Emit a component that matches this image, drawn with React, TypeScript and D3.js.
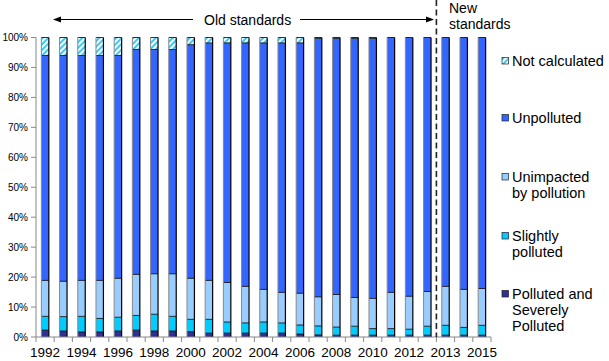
import * as d3 from 'd3';

// categories: 1992-2013 on old standards, then 2013-2015 on new standards
const years = [
  '1992', '1993', '1994', '1995', '1996', '1997', '1998', '1999', '2000', '2001', '2002',
  '2003', '2004', '2005', '2006', '2007', '2008', '2009', '2010', '2011', '2012', '2013',
  '2013', '2014', '2015',
];
const labelled = [0, 2, 4, 6, 8, 10, 12, 14, 16, 18, 20, 22, 24];
const oldCount = 22;

// percent of river length
const polluted = [2.3, 2.0, 1.7, 1.7, 2.0, 2.3, 2.0, 2.0, 1.8, 1.3, 1.3, 1.3, 1.3, 1.3, 1.0, 0.7, 0.6, 0.6, 0.6, 0.6, 0.6, 0.6, 0.6, 0.6, 0.6];
const slightly = [4.6, 4.8, 5.2, 4.5, 4.6, 4.9, 5.6, 4.9, 4.1, 4.6, 3.7, 3.4, 3.7, 3.4, 3.0, 3.0, 2.7, 3.0, 2.2, 2.2, 2.0, 3.0, 3.3, 2.6, 3.3];
const unimpacted = [12.0, 11.8, 12.0, 12.7, 13.0, 13.7, 13.5, 14.2, 13.7, 13.0, 13.2, 12.2, 10.9, 10.2, 10.6, 9.7, 10.9, 9.6, 10.1, 12.1, 11.0, 11.6, 13.0, 12.7, 12.3];
const unpolluted = [75.1, 75.4, 75.1, 75.1, 74.4, 75.1, 74.9, 74.9, 78.0, 79.3, 80.0, 81.3, 82.3, 83.3, 83.6, 86.3, 85.5, 86.5, 86.8, 85.1, 86.4, 84.8, 83.1, 84.1, 83.8];
const notCalculated = [6, 6, 6, 6, 6, 4, 4, 4, 2.4, 1.8, 1.8, 1.8, 1.8, 1.8, 1.8, 0.3, 0.3, 0.3, 0.3, 0, 0, 0, 0, 0, 0];

const yTicks = [0, 10, 20, 30, 40, 50, 60, 70, 80, 90, 100];

const keys = ['polluted', 'slightly', 'unimpacted', 'unpolluted', 'notCalculated'];
const fills: Record<string, string> = {
  polluted: '#2E3192',
  slightly: '#00CCFF',
  unimpacted: '#99CCFF',
  unpolluted: '#3366FF',
  notCalculated: 'url(#hatch)',
};
const legendItems = [
  { key: 'notCalculated', lines: ['Not calculated'], y: 61 },
  { key: 'unpolluted', lines: ['Unpolluted'], y: 118 },
  { key: 'unimpacted', lines: ['Unimpacted', 'by pollution'], y: 177 },
  { key: 'slightly', lines: ['Slightly', 'polluted'], y: 236 },
  { key: 'polluted', lines: ['Polluted and', 'Severely', 'Polluted'], y: 294 },
];

const width = 609;
const height = 361;
const marginLeft = 36;
const plotRight = 491;
const plotTop = 37.5;
const plotBottom = 337;
const font = 'Arial, "Liberation Sans", sans-serif';

const App = () => {
  const rows = years.map((_, i) => ({
    polluted: polluted[i],
    slightly: slightly[i],
    unimpacted: unimpacted[i],
    unpolluted: unpolluted[i],
    notCalculated: notCalculated[i],
  }));
  const series = d3.stack<any>().keys(keys)(rows);

  const x = d3.scaleBand<number>()
    .domain(d3.range(years.length))
    .range([marginLeft, plotRight])
    .paddingInner(0.59)
    .paddingOuter(0.295);
  const y = d3.scaleLinear().domain([0, 100]).range([plotBottom, plotTop]);
  const step = x.step();
  const bw = x.bandwidth();
  const splitX = marginLeft + step * oldCount;

  return (
    <svg width={width} height={height} style={{ position: 'absolute', left: 0, top: 0 }} fontFamily={font}>
      <defs>
        <pattern id="hatch" width="4" height="4" patternUnits="userSpaceOnUse" patternTransform="rotate(45)">
          <rect width="4" height="4" fill="#fff" />
          <rect width="2" height="4" fill="#33CCFF" />
        </pattern>
      </defs>

      {/* y axis */}
      <line x1={marginLeft} x2={marginLeft} y1={plotTop} y2={plotBottom} stroke="#888" />
      {yTicks.map(t => (
        <g key={t}>
          <line x1={marginLeft - 5} x2={marginLeft} y1={y(t)} y2={y(t)} stroke="#888" />
          <text x={28} y={y(t) + 3.5} fontSize={10} textAnchor="end" fill="#000">{t}%</text>
        </g>
      ))}

      {/* bars */}
      {series.map(s => (
        <g key={s.key}>
          {s.map((d, i) => {
            const h = y(d[0]) - y(d[1]);
            if (h <= 0) return null;
            return <rect key={i} x={x(i)} y={y(d[1])} width={bw} height={h} fill={fills[s.key]} />;
          })}
        </g>
      ))}
      {years.map((_, i) => {
        const x0 = x(i) as number;
        const top = y(100);
        return (
          <g key={i}>
            {series.map(s => (s[i][1] > s[i][0] ? (
              <line key={s.key} x1={x0} x2={x0 + bw} y1={y(s[i][1])} y2={y(s[i][1])} stroke="#000" strokeWidth={0.8} />
            ) : null))}
            <line x1={x0} x2={x0} y1={top} y2={plotBottom} stroke="#888" strokeWidth={1} />
            <line x1={x0 + bw} x2={x0 + bw} y1={top} y2={plotBottom} stroke="#000" strokeWidth={1.2} />
          </g>
        );
      })}

      {/* x axis */}
      <line x1={marginLeft} x2={plotRight} y1={plotBottom} y2={plotBottom} stroke="#888" />
      {d3.range(years.length + 1).map(i => (
        <line key={i} x1={marginLeft + i * step} x2={marginLeft + i * step} y1={plotBottom} y2={plotBottom + 5} stroke="#888" />
      ))}
      {labelled.map(i => (
        <text key={i} x={(x(i) as number) + bw / 2} y={357} fontSize={13.5} textAnchor="middle" fill="#000">{years[i]}</text>
      ))}

      {/* old / new standards divider */}
      <line x1={splitX} x2={splitX} y1={0} y2={plotBottom} stroke="#222" strokeWidth={1.6} strokeDasharray="6,3.5" />
      <line x1={58} x2={193} y1={19.5} y2={19.5} stroke="#000" strokeWidth={1} />
      <path d="M53,19.5 L61,16.5 L61,22.5 Z" fill="#000" />
      <text x={204} y={24.5} fontSize={14} fill="#000">Old standards</text>
      <line x1={300} x2={428} y1={19.5} y2={19.5} stroke="#000" strokeWidth={1} />
      <path d="M434,19.5 L426,16.5 L426,22.5 Z" fill="#000" />
      <text x={449} y={13} fontSize={14} fill="#000">New</text>
      <text x={449} y={28.5} fontSize={14} fill="#000">standards</text>

      {/* legend */}
      {legendItems.map(item => (
        <g key={item.key}>
          <rect x={502} y={item.y - 3.5} width={6.5} height={6.5} fill={fills[item.key]} stroke="#222" strokeWidth={0.7} />
          {item.lines.map((ln, j) => (
            <text key={j} x={512} y={item.y + 5 + j * 16} fontSize={14.5} fill="#000">{ln}</text>
          ))}
        </g>
      ))}
    </svg>
  );
};

export default App;
